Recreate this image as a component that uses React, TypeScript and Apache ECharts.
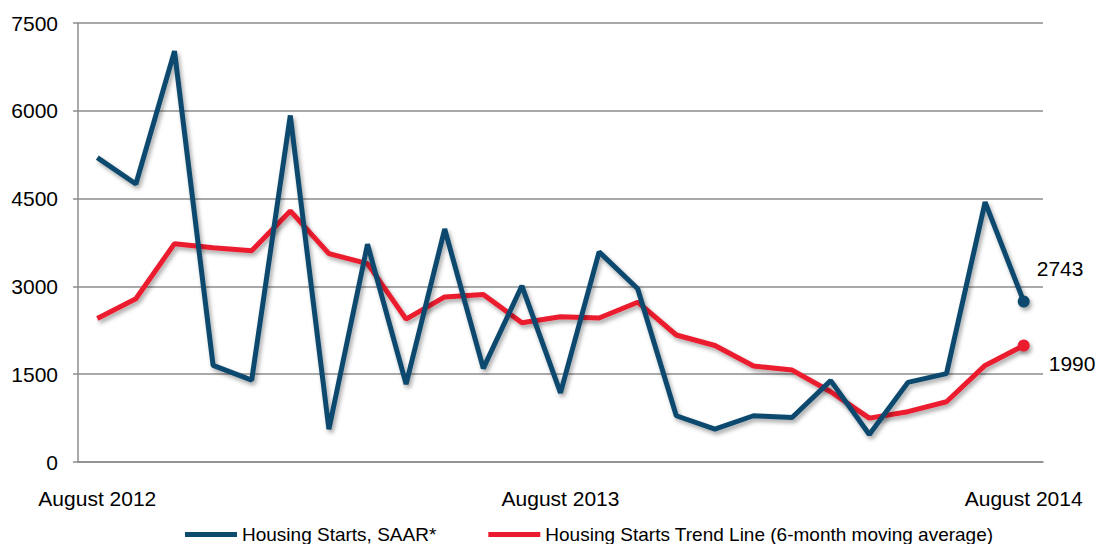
import React, { useEffect, useRef } from "react";
import * as echarts from "echarts";

const months = [
  "August 2012", "September 2012", "October 2012", "November 2012", "December 2012",
  "January 2013", "February 2013", "March 2013", "April 2013", "May 2013", "June 2013",
  "July 2013", "August 2013", "September 2013", "October 2013", "November 2013",
  "December 2013", "January 2014", "February 2014", "March 2014", "April 2014",
  "May 2014", "June 2014", "July 2014", "August 2014",
];

const housingStarts = [
  5200, 4750, 7020, 1650, 1400, 5920, 560, 3720, 1330, 3980, 1600, 3010, 1180,
  3590, 2960, 790, 560, 790, 760, 1390, 470, 1360, 1510, 4440, 2743,
];

const trendLine = [
  2450, 2790, 3730, 3660, 3610, 4290, 3560, 3390, 2440, 2820, 2860, 2380, 2480,
  2460, 2730, 2170, 1990, 1640, 1570, 1200, 750, 860, 1030, 1650, 1990,
];

const yTicks = { min: 0, max: 7500, interval: 1500 };

const BLUE = "#0c4a6e";
const RED = "#ea1b2f";
const FONT = "Liberation Sans, Arial, sans-serif";

function withEndPoint(values: number[], color: string, labelOffset: [number, number]) {
  return values.map((v, i) =>
    i === values.length - 1
      ? {
          value: v,
          symbol: "circle",
          symbolSize: 12,
          itemStyle: { color, shadowColor: "rgba(0,0,0,0.35)", shadowBlur: 4, shadowOffsetX: 2, shadowOffsetY: 3 },
          label: {
            show: true,
            position: "right",
            offset: labelOffset,
            formatter: String(v),
            fontSize: 21,
            color: "#000",
            fontFamily: FONT,
          },
        }
      : v
  );
}

export default function App() {
  const ref = useRef<HTMLDivElement>(null);

  useEffect(() => {
    if (!ref.current) return;
    const chart = echarts.init(ref.current, null, { renderer: "svg" });
    const lineShadow = {
      shadowColor: "rgba(0,0,0,0.35)",
      shadowBlur: 4,
      shadowOffsetX: 2,
      shadowOffsetY: 3,
    };
    chart.setOption({
      animation: false,
      backgroundColor: "#fff",
      grid: { left: 78, right: 54, top: 23, bottom: 82, containLabel: false },
      xAxis: {
        type: "category",
        data: months,
        boundaryGap: true,
        axisLine: { show: true, lineStyle: { color: "#8c8c8c", width: 1.5 } },
        axisTick: { show: false },
        axisLabel: {
          interval: 11,
          margin: 26,
          fontSize: 21,
          color: "#000",
          fontFamily: FONT,
        },
        splitLine: { show: false },
      },
      yAxis: {
        type: "value",
        min: yTicks.min,
        max: yTicks.max,
        interval: yTicks.interval,
        axisLine: { show: true, lineStyle: { color: "#8c8c8c", width: 1.5 } },
        axisTick: { show: true, length: 5, lineStyle: { color: "#8c8c8c", width: 1.5 } },
        axisLabel: {
          fontSize: 21,
          color: "#000",
          fontFamily: FONT,
          margin: 20,
          formatter: (v: number) => String(v),
        },
        splitLine: { show: true, lineStyle: { color: "#8c8c8c", width: 1.5 } },
      },
      legend: {
        left: 180,
        top: 520,
        itemWidth: 52,
        itemHeight: 5,
        itemGap: 52,
        icon: "rect",
        textStyle: { fontSize: 19, color: "#000", fontFamily: FONT },
        data: [
          { name: "Housing Starts, SAAR*", itemStyle: { color: BLUE } },
          { name: "Housing Starts Trend Line (6-month moving average)", itemStyle: { color: RED } },
        ],
      },
      series: [
        {
          name: "Housing Starts, SAAR*",
          type: "line",
          data: withEndPoint(housingStarts, BLUE, [2, -33]),
          symbol: "none",
          color: BLUE,
          lineStyle: { color: BLUE, width: 5, ...lineShadow },
          z: 3,
        },
        {
          name: "Housing Starts Trend Line (6-month moving average)",
          type: "line",
          data: withEndPoint(trendLine, RED, [14, 18]),
          symbol: "none",
          color: RED,
          lineStyle: { color: RED, width: 5, ...lineShadow },
          z: 2,
        },
      ],
    });
    return () => chart.dispose();
  }, []);

  return (
    <div
      ref={ref}
      style={{ position: "fixed", left: 0, top: 0, width: 1097, height: 544, background: "#fff" }}
    />
  );
}
